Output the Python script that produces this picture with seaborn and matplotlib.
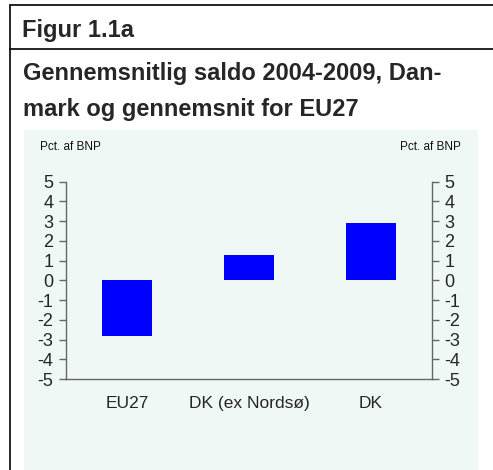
import matplotlib
matplotlib.use("Agg")
import matplotlib.pyplot as plt
import seaborn as sns
import pandas as pd
from matplotlib.patches import Rectangle
from matplotlib.lines import Line2D

# Gennemsnitlig saldo 2004-2009, pct. af BNP
categories = ["EU27", "DK (ex Nordsø)", "DK"]
values = [-2.8, 1.3, 2.9]
yticks = [-5, -4, -3, -2, -1, 0, 1, 2, 3, 4, 5]

df = pd.DataFrame({"land": categories, "saldo": values})

sns.set_style("white")
plt.rcParams["font.family"] = ["Liberation Sans", "DejaVu Sans"]
plt.rcParams["axes.unicode_minus"] = False

W, H = 493, 470
fig = plt.figure(figsize=(W / 100, H / 100), dpi=100)
fig.patch.set_facecolor("white")

# pale panel behind the chart
fig.add_artist(Rectangle((24 / W, 0), (478 - 24) / W, 1 - 130 / H,
                         transform=fig.transFigure, facecolor="#eff8f5",
                         edgecolor="none", zorder=0))
# frame lines
fig.add_artist(Line2D([9.5 / W, 9.5 / W], [0, 1 - 5 / H], transform=fig.transFigure,
                      color="black", lw=1.2))
fig.add_artist(Line2D([9.5 / W, 1], [1 - 5 / H, 1 - 5 / H], transform=fig.transFigure,
                      color="black", lw=1.2))
fig.add_artist(Line2D([9.5 / W, 1], [1 - 49 / H, 1 - 49 / H], transform=fig.transFigure,
                      color="black", lw=1.2))

fig.text(22 / W, 1 - 37 / H, "Figur 1.1a", fontsize=17, fontweight="bold", va="baseline")
fig.text(23 / W, 1 - 80 / H, "Gennemsnitlig saldo 2004-2009, Dan-", fontsize=17,
         fontweight="bold", va="baseline")
fig.text(23 / W, 1 - 116 / H, "mark og gennemsnit for EU27", fontsize=17,
         fontweight="bold", va="baseline")
fig.text(40 / W, 1 - 147 / H, "Pct. af BNP", fontsize=8.5, va="center", ha="left",
         color="#111111")
fig.text(461 / W, 1 - 147 / H, "Pct. af BNP", fontsize=8.5, va="center", ha="right",
         color="#111111")

ax = fig.add_axes([66 / W, 1 - 379 / H, (432 - 66) / W, (379 - 181.7) / H])
ax.patch.set_alpha(0)
sns.barplot(data=df, x="land", y="saldo", color="#0000ff", saturation=1,
            width=0.41, ax=ax)
for p in ax.patches:
    p.set_edgecolor("none")

ax.set_ylim(-5, 5)
ax.set_xlim(-0.5, 2.5)
ax.set_yticks(yticks)
ax.set_xlabel("")
ax.set_ylabel("")
ax.set_xticks([-0.5, 0.5, 1.5, 2.5], minor=True)
ax.tick_params(axis="x", which="major", length=0, pad=12, labelsize=12.5)
ax.tick_params(axis="x", which="minor", length=5, color="#666666", width=1)
ax.tick_params(axis="y", length=5, color="#666666", width=1, pad=4, labelsize=13,
               left=True)
for s in ["top", "right"]:
    ax.spines[s].set_visible(False)
for s in ["left", "bottom"]:
    ax.spines[s].set_color("#666666")
    ax.spines[s].set_linewidth(1)

ax2 = ax.twinx()
ax2.set_ylim(-5, 5)
ax2.set_yticks(yticks)
ax2.tick_params(axis="y", length=5, color="#666666", width=1, pad=4, labelsize=13,
                right=True)
for s in ["top", "left", "bottom"]:
    ax2.spines[s].set_visible(False)
ax2.spines["right"].set_color("#666666")
ax2.spines["right"].set_linewidth(1)

fig.savefig("out.png", dpi=100)
